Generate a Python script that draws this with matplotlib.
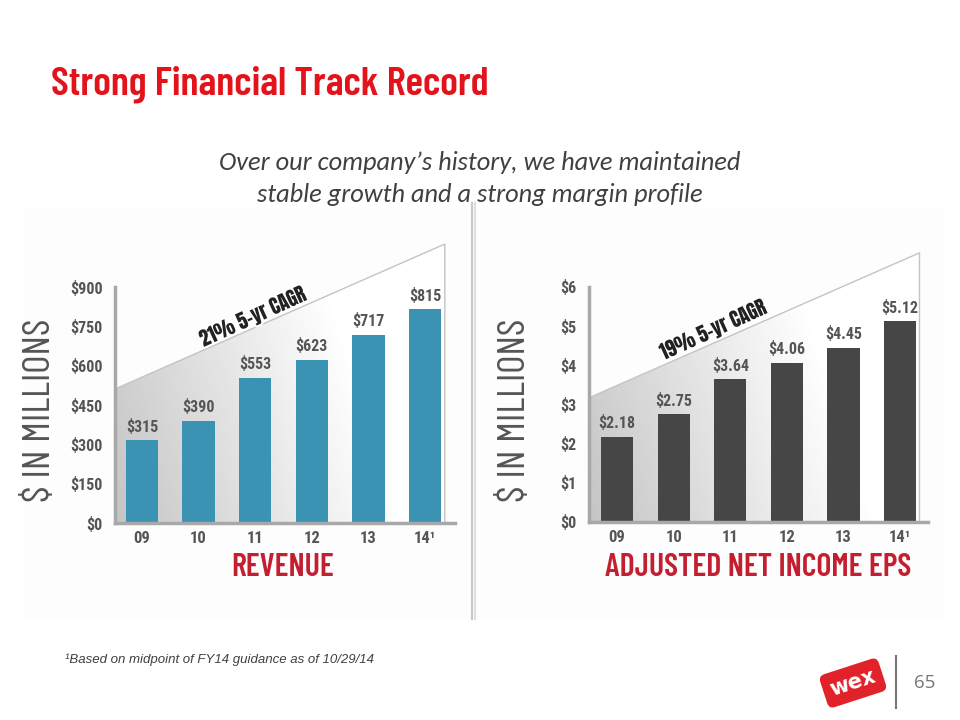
import matplotlib
matplotlib.use("Agg")
import matplotlib.pyplot as plt
import numpy as np
from matplotlib.patches import Polygon, Rectangle
import matplotlib.patheffects as pe

# ---- data ----
years = ["09", "10", "11", "12", "13", "14¹"]
revenue = [315, 390, 553, 623, 717, 815]
revenue_labels = ["$315", "$390", "$553", "$623", "$717", "$815"]
revenue_ticks = [0, 150, 300, 450, 600, 750, 900]
revenue_ticklabels = ["$0", "$150", "$300", "$450", "$600", "$750", "$900"]
eps = [2.18, 2.75, 3.64, 4.06, 4.45, 5.12]
eps_labels = ["$2.18", "$2.75", "$3.64", "$4.06", "$4.45", "$5.12"]
eps_ticks = [0, 1, 2, 3, 4, 5, 6]
eps_ticklabels = ["$0", "$1", "$2", "$3", "$4", "$5", "$6"]
rev_band = [511, 1064]     # CAGR wedge heights (start, end)
eps_band = [3.17, 6.87]

COND = ["Roboto Condensed", "DejaVu Sans"]
HEAD = ["Barlow Condensed", "Roboto Condensed", "DejaVu Sans"]
plt.rcParams["font.family"] = COND

fig = plt.figure(figsize=(9.6, 7.2), dpi=100)
W, H = 960, 720

def fx(px): return px / W
def fy(py): return 1 - py / H

# panel background
fig.patches.append(Rectangle((fx(25), fy(619)), fx(945) - fx(25), fy(208) - fy(619),
                             transform=fig.transFigure, facecolor="#fdfdfd",
                             edgecolor="none", zorder=-5))
# divider
for xx, c in [(472, "#c8c8c8"), (475, "#dedede")]:
    fig.add_artist(plt.Line2D([fx(xx), fx(xx)], [fy(203), fy(619)],
                              transform=fig.transFigure, color=c, lw=1.5, zorder=-4))

# title & subtitle
fig.text(fx(51), fy(84), "Strong Financial Track Record", color="#e3131b",
         fontsize=29.5, fontweight="semibold", family=HEAD, va="center", ha="left")
SUB = ["Carlito", "Open Sans", "DejaVu Sans"]
fig.text(fx(480), fy(162), "Over our company’s history, we have maintained",
         family=SUB, style="italic", color="#404040",
         fontsize=19, ha="center", va="center")
fig.text(fx(480), fy(194), "stable growth and a strong margin profile",
         family=SUB, style="italic", color="#404040",
         fontsize=19, ha="center", va="center")

def make_panel(rect, xlim, ylim, values, labels, ticks, ticklabels, band, color,
               cagr_text, cagr_xy, title, title_x, ylabel_x, band_x):
    ax = fig.add_axes(rect)
    ax.set_xlim(*xlim)
    ax.set_ylim(*ylim)
    ax.patch.set_alpha(0)
    x = np.arange(len(values))
    # gradient wedge
    poly = Polygon([(xlim[0], band[0]), (band_x, band[1]), (band_x, 0), (xlim[0], 0)],
                   closed=True, facecolor="none", edgecolor="none", transform=ax.transData)
    ax.add_patch(poly)
    gx = np.linspace(0, 1, 256)
    gy = np.linspace(0, 1, 64)
    GX, GY = np.meshgrid(gx, gy)
    g = 0.77 + 0.23 * np.clip(GX * 1.15 + GY * 0.3, 0, 1)
    img = ax.imshow(g, cmap="gray", vmin=0, vmax=1, aspect="auto",
                    extent=[xlim[0], band_x, 0, band[1]], origin="lower",
                    interpolation="bilinear", zorder=1)
    img.set_clip_path(poly)
    ax.plot([xlim[0], band_x, band_x], [band[0], band[1], 0], color="#c4c4c4",
            lw=1.0, zorder=2)
    ax.bar(x, values, width=0.57, color=color, zorder=3)
    for xi, v, lab in zip(x, values, labels):
        ax.annotate(lab, (xi, v), xytext=(0, 4), textcoords="offset points",
                    ha="center", va="bottom", fontsize=11.5, fontweight="bold",
                    color="#555555", zorder=4)
    ax.set_yticks(ticks)
    ax.set_yticklabels(ticklabels)
    ax.set_xticks(x)
    ax.set_xticklabels(years)
    ax.tick_params(axis="y", length=0, pad=9, labelsize=11.5, labelcolor="#555555")
    ax.tick_params(axis="x", length=0, pad=6, labelsize=12, labelcolor="#555555")
    for lbl in ax.get_xticklabels() + ax.get_yticklabels():
        lbl.set_fontweight("bold")
    for s in ["top", "right"]:
        ax.spines[s].set_visible(False)
    ax.spines["left"].set_bounds(0, ticks[-1])
    for s in ["left", "bottom"]:
        ax.spines[s].set_color("#a8a8a8")
        ax.spines[s].set_linewidth(2.5)
        ax.spines[s].set_zorder(5)
    ax.text(cagr_xy[0], cagr_xy[1], cagr_text, rotation=24.5, fontsize=14,
            color="#222222", ha="center", va="center",
            family=["Anton", "Oswald", "DejaVu Sans"],
            rotation_mode="anchor", zorder=4,
            path_effects=[pe.withStroke(linewidth=3, foreground="white")])
    fig.text(fx(title_x), fy(567), title, color="#c41f30", fontsize=23,
             fontweight="semibold", family=HEAD, ha="center", va="center")
    fig.text(fx(ylabel_x), fy(410), "$ IN MILLIONS", rotation=90, color="#555555",
             fontsize=28.5, family=HEAD, ha="center", va="center")
    return ax

make_panel([fx(115), fy(523), fx(455) - fx(115), fy(234.6) - fy(523)],
           (-0.477, 5.53), (0, 1100), revenue, revenue_labels, revenue_ticks,
           revenue_ticklabels, rev_band, "#3b93b4", "21% 5-yr CAGR", (1.96, 786),
           "REVENUE", 283, 41, 5.35)

make_panel([fx(589), fy(522), fx(928) - fx(589), fy(236) - fy(522)],
           (-0.495, 5.49), (0, 7.3), eps, eps_labels, eps_ticks,
           eps_ticklabels, eps_band, "#464646", "19% 5-yr CAGR", (1.70, 4.90),
           "ADJUSTED NET INCOME EPS", 758, 516, 5.34)

# footnote
fig.text(fx(65), fy(660), "¹Based on midpoint of FY14 guidance as of 10/29/14",
         family=["Liberation Sans", "DejaVu Sans"], style="italic", color="#404040",
         fontsize=9.5, ha="left", va="center")

# logo & page number
fig.text(fx(853), fy(683), "wex", family=["DejaVu Sans"], fontweight="bold",
         fontsize=15, color="white", rotation=18, ha="center", va="center",
         bbox=dict(boxstyle="round,pad=0.35,rounding_size=0.3", facecolor="#e2222b",
                   edgecolor="none"))
fig.add_artist(plt.Line2D([fx(896), fx(896)], [fy(656), fy(708)],
                          transform=fig.transFigure, color="#777777", lw=1.5))
fig.text(fx(925), fy(683), "65", family=["Open Sans", "DejaVu Sans"],
         fontsize=13.5, color="#777777", ha="center", va="center")

fig.savefig("out.png", dpi=100, facecolor="white")
